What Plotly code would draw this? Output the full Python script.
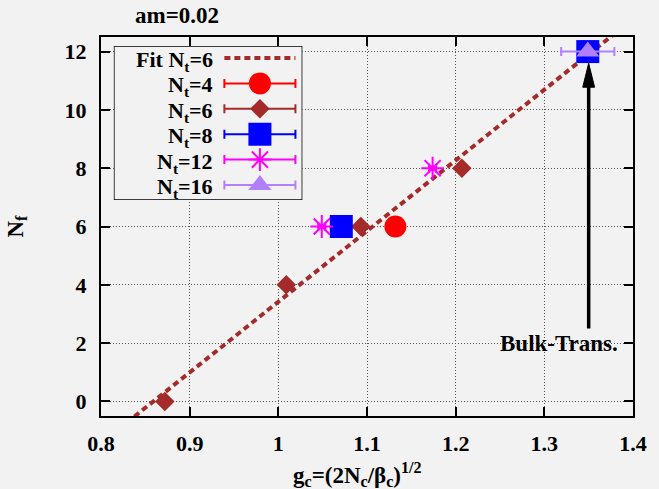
import plotly.graph_objects as go

# ---------------- data ----------------
nt4_g = [1.132]
nt4_nf = [6]
nt4_err = [0.004]

nt6_g = [0.872, 1.009, 1.093, 1.207]
nt6_nf = [0, 4, 6, 8]
nt6_err = [0.004, 0.004, 0.004, 0.004]

nt8_g = [1.071, 1.349]
nt8_nf = [6, 12]
nt8_err = [0.004, 0.004]

nt12_g = [1.049, 1.174]
nt12_nf = [6, 8]
nt12_err = [0.004, 0.004]

nt16_g = [1.349]
nt16_nf = [12]
nt16_err = [0.03]

fit_slope = 24.25
fit_g0 = 0.859
fit_g = [0.82, 1.40]
fit_nf = [fit_slope * (g - fit_g0) for g in fit_g]

x_ticks = [0.8, 0.9, 1.0, 1.1, 1.2, 1.3, 1.4]
y_ticks = [0, 2, 4, 6, 8, 10, 12]

arrow_g = 1.35
arrow_tip = 11.6
arrow_tail = 2.5

# ---------------- styles ----------------
BG = "#f2f2f2"
FONT = dict(family="Liberation Serif", size=23, color="black", weight="bold")
LEGFONT = dict(family="Liberation Serif", size=22, color="black", weight="bold")
TICKFONT = dict(family="Liberation Serif", size=22, color="black", weight="bold")
FIT_COLOR = "#a52a2a"

series = [
    dict(name="N<sub>t</sub>=4", g=nt4_g, nf=nt4_nf, err=nt4_err, color="#ff0000", symbol="circle", size=22, lw=0),
    dict(name="N<sub>t</sub>=6", g=nt6_g, nf=nt6_nf, err=nt6_err, color="#a52a2a", symbol="diamond", size=15, lw=0),
    dict(name="N<sub>t</sub>=8", g=nt8_g, nf=nt8_nf, err=nt8_err, color="#0000ff", symbol="square", size=23, lw=0),
    dict(name="N<sub>t</sub>=12", g=nt12_g, nf=nt12_nf, err=nt12_err, color="#ff00ff", symbol="asterisk-open", size=19, lw=2),
    dict(name="N<sub>t</sub>=16", g=nt16_g, nf=nt16_nf, err=nt16_err, color="#b080ff", symbol="triangle-up", size=20, lw=0),
]

fig = go.Figure()

# fit line
fig.add_trace(go.Scatter(
    x=fit_g, y=fit_nf, mode="lines",
    line=dict(color=FIT_COLOR, width=4, dash="6px,4px"),
    showlegend=False, hoverinfo="skip"))

for s in series:
    fig.add_trace(go.Scatter(
        x=s["g"], y=s["nf"], mode="markers",
        marker=dict(symbol=s["symbol"], size=s["size"], color=s["color"],
                    line=dict(width=s["lw"], color=s["color"])),
        error_x=dict(type="data", array=s["err"], visible=True,
                     color=s["color"], thickness=2, width=4.5),
        showlegend=False))

# ---------------- custom legend (inset axes in pixel-like units) ----------------
L_LEFT, L_RIGHT, L_TOP, L_BOT = 114, 305, 46, 200
PLOT_L, PLOT_R, PLOT_T, PLOT_B = 101, 640, 37, 416
pw, ph = PLOT_R - PLOT_L, PLOT_B - PLOT_T
row0, row_h = 58, 25.4
text_right, samp_l, samp_r = 215, 226, 298
samp_c = (samp_l + samp_r) / 2

legend_rows = ["Fit N<sub>t</sub>=6"] + [s["name"] for s in series]
row_y = [row0 + i * row_h for i in range(len(legend_rows))]

fig.add_trace(go.Scatter(
    x=[samp_l, samp_r], y=[row_y[0], row_y[0]], mode="lines",
    line=dict(color=FIT_COLOR, width=4, dash="6px,4px"),
    xaxis="x2", yaxis="y2", showlegend=False, hoverinfo="skip"))
for i, s in enumerate(series):
    fig.add_trace(go.Scatter(
        x=[samp_c], y=[row_y[i + 1]], mode="markers",
        marker=dict(symbol=s["symbol"], size=s["size"], color=s["color"],
                    line=dict(width=s["lw"], color=s["color"])),
        error_x=dict(type="constant", value=(samp_r - samp_l) / 2, visible=True,
                     color=s["color"], thickness=2, width=4.5),
        xaxis="x2", yaxis="y2", showlegend=False, hoverinfo="skip"))

annotations = []
for i, t in enumerate(legend_rows):
    annotations.append(dict(
        text=t, x=text_right, y=row_y[i], xref="x2", yref="y2",
        xanchor="right", yanchor="middle", showarrow=False, font=LEGFONT,
        yshift=-3, borderpad=0))

shapes = [dict(type="rect", xref="x2", yref="y2", x0=L_LEFT, x1=L_RIGHT, y0=L_TOP, y1=L_BOT,
               line=dict(color="black", width=1.5), fillcolor=BG, layer="between")]

# arrow (shaft + head)
head_len = 24 / ph * 13.0
head_half = 6 / pw * 0.6
shapes.append(dict(type="line", xref="x", yref="y", x0=arrow_g, x1=arrow_g,
                   y0=arrow_tail, y1=arrow_tip - head_len * 0.5,
                   line=dict(color="black", width=3.5)))
shapes.append(dict(type="path", xref="x", yref="y",
                   path=f"M {arrow_g},{arrow_tip} L {arrow_g - head_half},{arrow_tip - head_len} "
                        f"L {arrow_g + head_half},{arrow_tip - head_len} Z",
                   fillcolor="black", line=dict(color="black", width=1)))

annotations.append(dict(text="Bulk-Trans.", x=1.317, y=2.0, xref="x", yref="y",
                        showarrow=False, font=FONT, xanchor="center", yanchor="middle"))

# titles
annotations.append(dict(text="am=0.02", x=(178 - PLOT_L) / pw, y=1 + (PLOT_T - 15) / ph,
                        xref="paper", yref="paper", showarrow=False, font=FONT,
                        xanchor="center", yanchor="middle"))
annotations.append(dict(text="g<sub>c</sub>=(2N<sub>c</sub>/β<sub>c</sub>)<sup>1/2</sup>",
                        x=(361 - PLOT_L) / pw, y=-(474 - PLOT_B) / ph, xref="paper", yref="paper",
                        showarrow=False, font=FONT, xanchor="center", yanchor="middle"))
annotations.append(dict(text="N<sub>f</sub>", x=-(PLOT_L - 15) / pw, y=0.5,
                        xref="paper", yref="paper", showarrow=False, font=FONT,
                        textangle=-90, xanchor="center", yanchor="middle"))

axis_common = dict(
    showline=True, linecolor="black", linewidth=2, mirror="allticks",
    ticks="inside", ticklen=9, tickwidth=1.5, tickcolor="black",
    showgrid=True, gridcolor="#555555", gridwidth=1, griddash="1px,2px",
    zeroline=False, tickfont=TICKFONT,
)

fig.update_layout(
    width=659, height=489, autosize=False,
    margin=dict(l=PLOT_L, r=659 - PLOT_R, t=PLOT_T, b=489 - PLOT_B),
    paper_bgcolor=BG, plot_bgcolor=BG,
    xaxis=dict(range=[0.8, 1.4], tickvals=x_ticks, ticktext=[f"{v:g}" for v in x_ticks],
               ticklabelstandoff=7, **axis_common),
    yaxis=dict(range=[-0.5, 12.5], tickvals=y_ticks, ticklabelstandoff=8, **axis_common),
    xaxis2=dict(domain=[(L_LEFT - PLOT_L) / pw, (L_RIGHT - PLOT_L) / pw],
                range=[L_LEFT, L_RIGHT], visible=False, anchor="y2", fixedrange=True),
    yaxis2=dict(domain=[1 - (L_BOT - PLOT_T) / ph, 1 - (L_TOP - PLOT_T) / ph],
                range=[L_BOT, L_TOP], visible=False, anchor="x2", fixedrange=True),
    shapes=shapes, annotations=annotations,
    showlegend=False,
)

fig.write_html(
    "out.html",
    config={"displayModeBar": False, "responsive": False},
    post_script=(
        "document.body.style.margin='0';"
        "document.body.style.background='#f2f2f2';"
        "var gd=document.getElementById('{plot_id}');"
        "gd.style.width='659px';gd.style.height='489px';"
        "Plotly.relayout(gd,{width:659,height:489});"
    ),
)
